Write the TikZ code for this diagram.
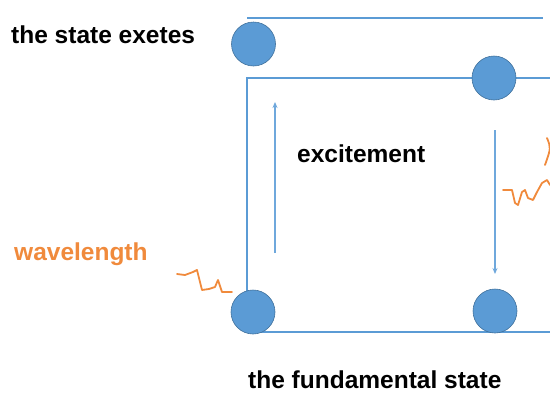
\documentclass[tikz,border=0pt]{standalone}
\usepackage{fontspec}
\setmainfont{Liberation Sans}
\usetikzlibrary{arrows.meta}
\definecolor{lvl}{HTML}{5B9BD5}
\definecolor{edge}{HTML}{41719C}
\definecolor{arr}{HTML}{6FA8DC}
\definecolor{wave}{HTML}{F08A3C}
\tikzset{
  level/.style={draw=lvl, line width=2.6pt},
  electron/.style={circle, fill=lvl, draw=edge, line width=0.6pt, minimum size=44pt, inner sep=0pt},
  trans/.style={draw=arr, line width=1.6pt, -{Stealth[length=6pt,width=5pt]}},
  photon/.style={draw=wave, line width=1.8pt, line join=round, line cap=round},
  lbl/.style={font=\fontsize{24.5}{27}\selectfont\bfseries, inner sep=0pt, text depth=0pt},
}
\begin{document}
\begin{tikzpicture}[x=1pt,y=-1pt]
\useasboundingbox (0,0) rectangle (550,394);
% levels
\coordinate (t1) at (247,18); \coordinate (t2) at (543,18);
\coordinate (m1) at (247,78); \coordinate (m2) at (550,78);
\coordinate (b1) at (247,332); \coordinate (b2) at (550,332);
\draw[level] (t1) -- (t2);
\draw[level] (b1) -- (m1) -- (m2);
\draw[level] (b1) -- (b2);
% electrons
\node[electron] (e1) at (253.5,44) {};
\node[electron] (e2) at (494,78) {};
\node[electron] (e3) at (253,312) {};
\node[electron] (e4) at (495,311) {};
% transitions
\coordinate (u1) at (275,253); \coordinate (u2) at (275,102);
\coordinate (d1) at (495,130); \coordinate (d2) at (495,274);
\draw[trans] (u1) -- (u2);
\draw[trans] (d1) -- (d2);
% photons
\draw[photon] (177,274) -- (185,275) -- (193,272) -- (197,270) -- (202,290) -- (209,289) -- (215,287) -- (218,280) -- (222,292) -- (232,292);
\draw[photon] (503,190) -- (512,190) -- (515,203) -- (518,205) -- (522,192) -- (525,190) -- (528,198) -- (533,200) -- (537,192) -- (542,183) -- (547,180) -- (550,185);
\draw[photon] (547,138) .. controls (551,148) .. (545,165);
% labels
\node[lbl, anchor=base west] (s1) at (11,43) {the state exetes};
\node[lbl, anchor=base west] (s2) at (297,162) {excitement};
\node[lbl, anchor=base west, text=wave] (s3) at (14,260) {wavelength};
\node[lbl, anchor=base west] (s4) at (248,388) {the fundamental state};
\end{tikzpicture}
\end{document}
